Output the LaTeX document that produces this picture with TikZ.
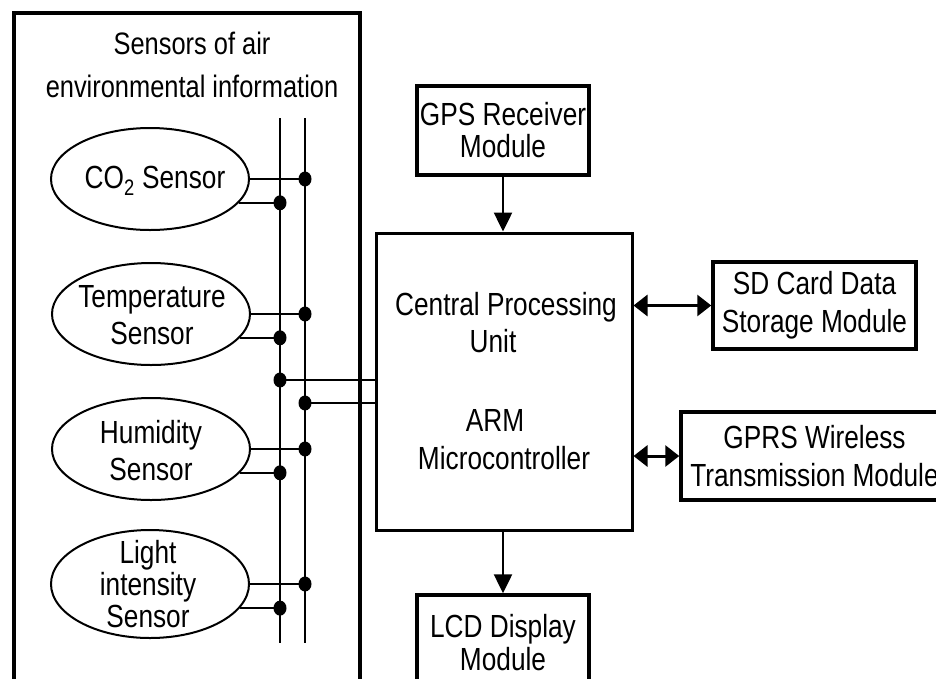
\documentclass[tikz,border=0pt]{standalone}
\usepackage{fontspec}
\setmainfont{Liberation Sans}[FakeStretch=0.82]
\usetikzlibrary{shapes.geometric,arrows.meta}
\begin{document}
\begin{tikzpicture}[x=1pt,y=-1pt,
  every node/.style={font=\fontsize{32}{37}\selectfont},
  sensor/.style={draw,ellipse,line width=2pt,minimum width=198pt,minimum height=102pt,inner sep=0pt},
  stxt/.style={align=center,inner sep=0pt},
  box/.style={draw,line width=3.5pt,align=center,inner sep=0pt},
  wire/.style={line width=2pt},
  jdot/.style={fill=black,ellipse,inner sep=0pt,minimum width=13pt,minimum height=15pt},
  arr/.style={line width=2.5pt,-{Triangle[length=19pt,width=18pt]}},
  darr/.style={line width=3pt,{Triangle[length=14pt,width=21pt]}-{Triangle[length=14pt,width=21pt]}},
  plain/.style={inner sep=0pt,anchor=base}
]
\useasboundingbox (0,0) rectangle (936,678);
\clip (0,0) rectangle (936,678);
\fill[white] (0,0) rectangle (936,678);

% outer sensor box
\node[draw,line width=3.5pt,minimum width=346pt,minimum height=720pt,anchor=north west,inner sep=0pt] (outer) at (12,11) {};
\node[stxt,font=\fontsize{31}{43}\selectfont] (title) at (192,65) {Sensors of air\\environmental information};

% buses
\coordinate (aT) at (280,118);
\coordinate (aB) at (280,643);
\coordinate (bT) at (305,118);
\coordinate (bB) at (305,643);
\draw[wire] (aT) -- (aB);
\draw[wire] (bT) -- (bB);

% sensors
\node[sensor] (co2) at (150,179) {};
\node[plain] (co2t) at (155,188) {CO\textsubscript{2} Sensor};
\node[sensor] (temp) at (151,314) {};
\node[stxt] (tempt) at (152,315) {Temperature\\Sensor};
\node[sensor] (hum) at (151,449) {};
\node[stxt] (humt) at (151,451) {Humidity\\Sensor};
\node[sensor,minimum height=108pt] (light) at (150,584) {};
\node[stxt,font=\fontsize{32}{32}\selectfont] (lightt) at (148,584) {Light\\intensity\\Sensor};

% junctions
\foreach \s/\n in {co2/1,temp/2,hum/3,light/4}{
  \node[jdot] (u\n) at (\s.east -| bT) {};
  \node[jdot] (l\n) at (\s.-15 -| aT) {};
  \draw[wire] (\s.east) -- (u\n.center);
  \draw[wire] (\s.-15) -- (l\n.center);
}

% central unit
\node[draw,line width=3pt,minimum width=256pt,minimum height=297pt,inner sep=0pt] (cpu) at (504,381.5) {};
\node[plain] (c1) at (506,315) {Central Processing};
\node[plain] (c2) at (493,352) {Unit};
\node[plain] (c3) at (495,431) {ARM};
\node[plain] (c4) at (504,469) {Microcontroller};

\node[jdot] (dA) at (280,380) {};
\node[jdot] (dB) at (305,403) {};
\draw[wire,line width=2.5pt] (dA.center) -- (dA.center -| cpu.west);
\draw[wire,line width=2.5pt] (dB.center) -- (dB.center -| cpu.west);

% peripheral modules
\node[box,font=\fontsize{32}{32}\selectfont,minimum width=172pt,minimum height=89pt] (gps) at (503,130.5) {GPS Receiver\\Module};
\node[box,font=\fontsize{32}{38}\selectfont,minimum width=203pt,minimum height=87pt] (sd) at (814.5,305.5) {SD Card Data\\Storage Module};
\node[box,font=\fontsize{32}{38}\selectfont,minimum width=267pt,minimum height=88pt] (gprs) at (814.5,456) {GPRS Wireless\\Transmission Module};
\node[box,font=\fontsize{32}{33}\selectfont,minimum width=172pt,minimum height=95pt] (lcd) at (503,642.5) {LCD Display\\Module};

% arrows
\draw[arr] (gps.south) -- (gps.south |- cpu.north);
\draw[arr] (lcd.north |- cpu.south) -- (lcd.north);
\draw[darr] (cpu.east |- sd.west) -- (sd.west);
\draw[darr] (cpu.east |- gprs.west) -- (gprs.west);
\end{tikzpicture}
\end{document}
